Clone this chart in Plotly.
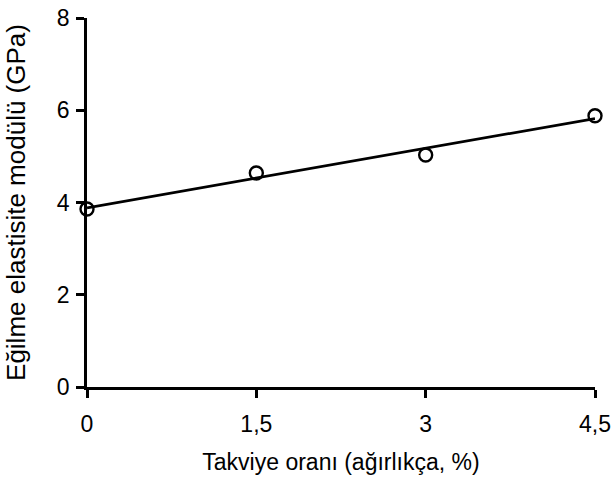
import numpy as np
import plotly.graph_objects as go

x_vals = [0, 1.5, 3, 4.5]
y_vals = [3.86, 4.64, 5.03, 5.88]
x_tick_vals = [0, 1.5, 3, 4.5]
x_tick_text = ["0", "1,5", "3", "4,5"]
y_tick_vals = [0, 2, 4, 6, 8]

slope, intercept = np.polyfit(x_vals, y_vals, 1)
fit_x = [min(x_vals), max(x_vals)]
fit_y = [intercept + slope * v for v in fit_x]

fig = go.Figure()
fig.add_trace(go.Scatter(x=fit_x, y=fit_y, mode="lines",
                         line=dict(color="black", width=2.7),
                         showlegend=False, cliponaxis=False))
fig.add_trace(go.Scatter(x=x_vals, y=y_vals, mode="markers",
                         marker=dict(symbol="circle-open", size=13,
                                     color="black", line=dict(width=2.4, color="black")),
                         showlegend=False, cliponaxis=False))

font = "Liberation Sans, Arial, sans-serif"
fig.update_layout(
    width=615, height=488,
    margin=dict(l=87, r=20, t=18, b=101),
    paper_bgcolor="white", plot_bgcolor="white",
    font=dict(family=font, size=23, color="black"),
    xaxis=dict(range=[0, 4.5], tickvals=x_tick_vals, ticktext=x_tick_text,
               showline=True, linecolor="black", linewidth=2.5,
               ticks="outside", ticklen=8, tickwidth=2.5, tickcolor="black",
               showgrid=False, zeroline=False, automargin=False,
               tickfont=dict(size=23), ticklabelstandoff=7,
               title=dict(text="Takviye oranı (ağırlıkça, %)", font=dict(size=23), standoff=18)),
    yaxis=dict(range=[0, 8], tickvals=y_tick_vals,
               showline=True, linecolor="black", linewidth=2.5,
               ticks="outside", ticklen=8, tickwidth=2.5, tickcolor="black",
               showgrid=False, zeroline=False, automargin=False,
               tickfont=dict(size=23), ticklabelstandoff=2,
               title=dict(text="Eğilme elastisite modülü (GPa)", font=dict(size=26), standoff=24)),
)

fig.write_html("out.html")
